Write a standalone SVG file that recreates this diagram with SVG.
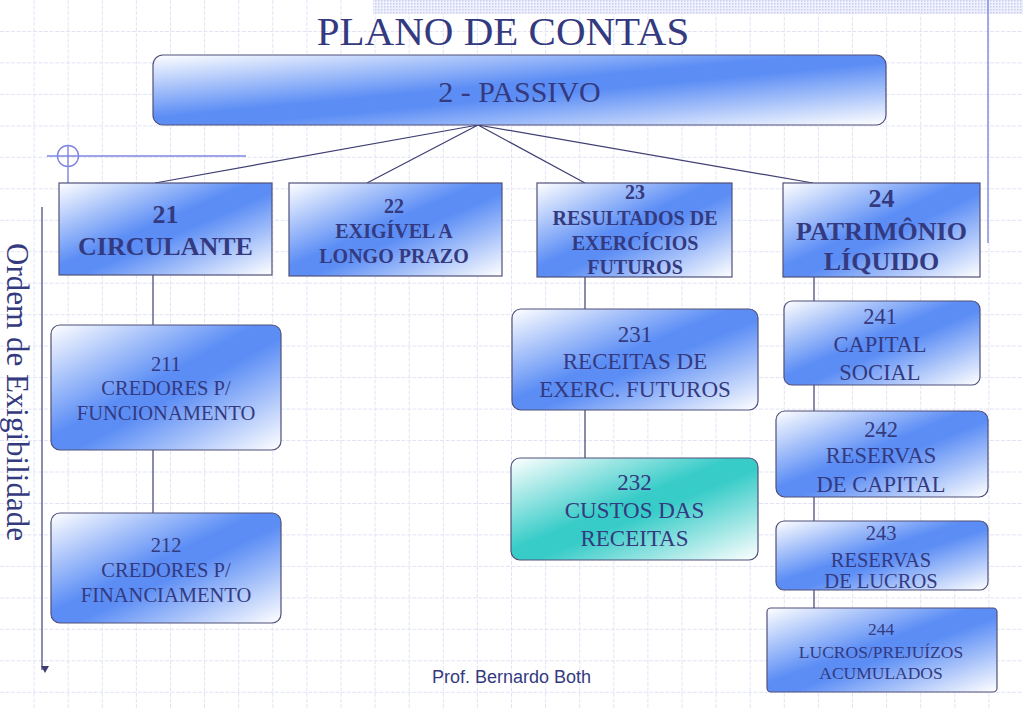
<svg xmlns="http://www.w3.org/2000/svg" width="1023" height="708" viewBox="0 0 1023 708">
<style>
.t{font-family:"Liberation Serif","Times New Roman",serif;fill:#343a80;text-anchor:middle}
.b{font-weight:bold}
.box{stroke:#50507a;stroke-width:1.2}
.con{stroke:#3e3e72;stroke-width:1.2;fill:none}
.grid{stroke:#e2e4f6;stroke-width:1;stroke-dasharray:4 1.5;fill:none}
.deco{stroke:#7f86e0;stroke-width:1.4;fill:none}
</style>
<defs>
<linearGradient id="gb" x1="0" y1="0" x2="1" y2="1">
<stop offset="0" stop-color="#ffffff"/>
<stop offset="0.45" stop-color="#5b8df5"/>
<stop offset="0.55" stop-color="#5b8df5"/>
<stop offset="1" stop-color="#ffffff"/>
</linearGradient>
<linearGradient id="gt" x1="0" y1="0" x2="1" y2="1">
<stop offset="0" stop-color="#ffffff"/>
<stop offset="0.45" stop-color="#38ccc8"/>
<stop offset="0.55" stop-color="#38ccc8"/>
<stop offset="1" stop-color="#ffffff"/>
</linearGradient>
<pattern id="dots" width="3" height="3" patternUnits="userSpaceOnUse">
<rect width="3" height="3" fill="#eef0fb"/>
<rect width="1.5" height="1.5" fill="#c9cdf0"/>
</pattern>
<marker id="arr" markerWidth="8" markerHeight="8" refX="4" refY="7" orient="auto" markerUnits="userSpaceOnUse">
<path d="M0,0 L8,0 L4,7 Z" fill="#3e3e72" transform="rotate(-90 4 4)"/>
</marker>
</defs>
<rect width="1023" height="708" fill="#ffffff"/>
<g id="grid">
<path class="grid" d="M34.1,0V708M68.2,0V708M102.3,0V708M136.4,0V708M170.5,0V708M204.6,0V708M238.7,0V708M272.8,0V708M306.9,0V708M341,0V708M375.1,0V708M409.2,0V708M443.3,0V708M477.4,0V708M511.5,0V708M545.6,0V708M579.7,0V708M613.8,0V708M647.9,0V708M682,0V708M716.1,0V708M750.2,0V708M784.3,0V708M818.4,0V708M852.5,0V708M886.6,0V708M920.7,0V708M954.8,0V708M988.9,0V708"/>
<path class="grid" d="M0,31.5H1023M0,62.9H1023M0,94.4H1023M0,125.9H1023M0,157.3H1023M0,188.8H1023M0,220.3H1023M0,251.7H1023M0,283.2H1023M0,314.7H1023M0,346.1H1023M0,377.6H1023M0,409.1H1023M0,440.5H1023M0,472H1023M0,503.5H1023M0,534.9H1023M0,566.4H1023M0,597.9H1023M0,629.3H1023M0,660.8H1023M0,692.3H1023"/>
</g>
<g id="decoration">
<rect x="373" y="0" width="650" height="14" fill="url(#dots)"/>
<line class="deco" x1="988" y1="0" x2="988" y2="243"/>
<line class="deco" x1="47" y1="156" x2="246" y2="156"/>
<line class="deco" x1="68" y1="145" x2="68" y2="183"/>
<circle class="deco" cx="68" cy="156" r="10.5"/>
</g>
<text class="t" x="503" y="45" font-size="41">PLANO DE CONTAS</text>
<g id="connectors">
<path class="con" d="M478,125L155,183M478,125L367,183M478,125L585,183M478,125L813,183"/>
<path class="con" d="M153,275V325M153,450V513"/>
<path class="con" d="M585,277V309M585,410V458"/>
<path class="con" d="M814,277V301M814,385V411M814,497V521M814,590V608"/>
<line class="con" x1="42" y1="207" x2="42" y2="670" marker-end="url(#arr)"/>
</g>
<g id="root">
<rect class="box" x="153" y="55" width="733" height="70" rx="10" fill="url(#gb)"/>
<text class="t" x="519.5" y="102" font-size="30">2 - PASSIVO</text>
</g>
<g id="n21">
<rect class="box" x="59" y="183" width="213" height="92" fill="url(#gb)"/>
<text class="t b" x="165.5" y="223" font-size="26">21</text>
<text class="t b" x="165.5" y="255" font-size="26">CIRCULANTE</text>
</g>
<g id="n22">
<rect class="box" x="289" y="183" width="213" height="93" fill="url(#gb)"/>
<text class="t b" x="394" y="213" font-size="20">22</text>
<text class="t b" x="394" y="238" font-size="20">EXIGÍVEL A</text>
<text class="t b" x="394" y="263" font-size="20">LONGO PRAZO</text>
</g>
<g id="n23">
<rect class="box" x="537" y="183" width="195" height="94" fill="url(#gb)"/>
<text class="t b" x="635" y="199" font-size="20">23</text>
<text class="t b" x="635" y="225" font-size="20">RESULTADOS DE</text>
<text class="t b" x="635" y="250" font-size="20">EXERCÍCIOS</text>
<text class="t b" x="635" y="274" font-size="20">FUTUROS</text>
</g>
<g id="n24">
<rect class="box" x="783" y="183" width="197" height="94" fill="url(#gb)"/>
<text class="t b" x="881.5" y="207" font-size="26">24</text>
<text class="t b" x="881.5" y="240" font-size="26">PATRIMÔNIO</text>
<text class="t b" x="881.5" y="270" font-size="26">LÍQUIDO</text>
</g>
<g id="n211">
<rect class="box" x="51" y="325" width="230" height="125" rx="9" fill="url(#gb)"/>
<text class="t" x="166" y="371" font-size="20.5">211</text>
<text class="t" x="166" y="395" font-size="20.5">CREDORES P/</text>
<text class="t" x="166" y="420" font-size="20.5">FUNCIONAMENTO</text>
</g>
<g id="n212">
<rect class="box" x="51" y="513" width="230" height="110" rx="9" fill="url(#gb)"/>
<text class="t" x="166" y="552" font-size="20.5">212</text>
<text class="t" x="166" y="577" font-size="20.5">CREDORES P/</text>
<text class="t" x="166" y="602" font-size="20.5">FINANCIAMENTO</text>
</g>
<g id="n231">
<rect class="box" x="512" y="309" width="246" height="101" rx="9" fill="url(#gb)"/>
<text class="t" x="635" y="342" font-size="23">231</text>
<text class="t" x="635" y="369" font-size="23">RECEITAS DE</text>
<text class="t" x="635" y="397" font-size="23">EXERC. FUTUROS</text>
</g>
<g id="n232">
<rect class="box" x="511" y="458" width="247" height="102" rx="9" fill="url(#gt)"/>
<text class="t" x="634.5" y="490" font-size="23">232</text>
<text class="t" x="634.5" y="518" font-size="23">CUSTOS DAS</text>
<text class="t" x="634.5" y="546" font-size="23">RECEITAS</text>
</g>
<g id="n241">
<rect class="box" x="784" y="301" width="196" height="84" rx="8" fill="url(#gb)"/>
<text class="t" x="880" y="324" font-size="22.5">241</text>
<text class="t" x="880" y="352" font-size="22.5">CAPITAL</text>
<text class="t" x="880" y="380" font-size="22.5">SOCIAL</text>
</g>
<g id="n242">
<rect class="box" x="776" y="411" width="212" height="86" rx="9" fill="url(#gb)"/>
<text class="t" x="881" y="437" font-size="22.5">242</text>
<text class="t" x="881" y="463" font-size="22.5">RESERVAS</text>
<text class="t" x="881" y="492" font-size="22.5">DE CAPITAL</text>
</g>
<g id="n243">
<rect class="box" x="776" y="521" width="212" height="69" rx="8" fill="url(#gb)"/>
<text class="t" x="881" y="540" font-size="20.5">243</text>
<text class="t" x="881" y="567" font-size="20.5">RESERVAS</text>
<text class="t" x="881" y="588" font-size="20.5">DE LUCROS</text>
</g>
<g id="n244">
<rect class="box" x="767" y="608" width="230" height="84" rx="4" fill="url(#gb)"/>
<text class="t" x="881" y="635" font-size="17.5">244</text>
<text class="t" x="881" y="658" font-size="17.5">LUCROS/PREJUÍZOS</text>
<text class="t" x="881" y="679" font-size="17.5">ACUMULADOS</text>
</g>
<text class="t" x="7" y="392" font-size="31" transform="rotate(90 7 392)">Ordem de Exigibilidade</text>
<text x="432" y="683" font-size="18" font-family="Liberation Sans, Arial, sans-serif" fill="#343a80">Prof. Bernardo Both</text>
</svg>
